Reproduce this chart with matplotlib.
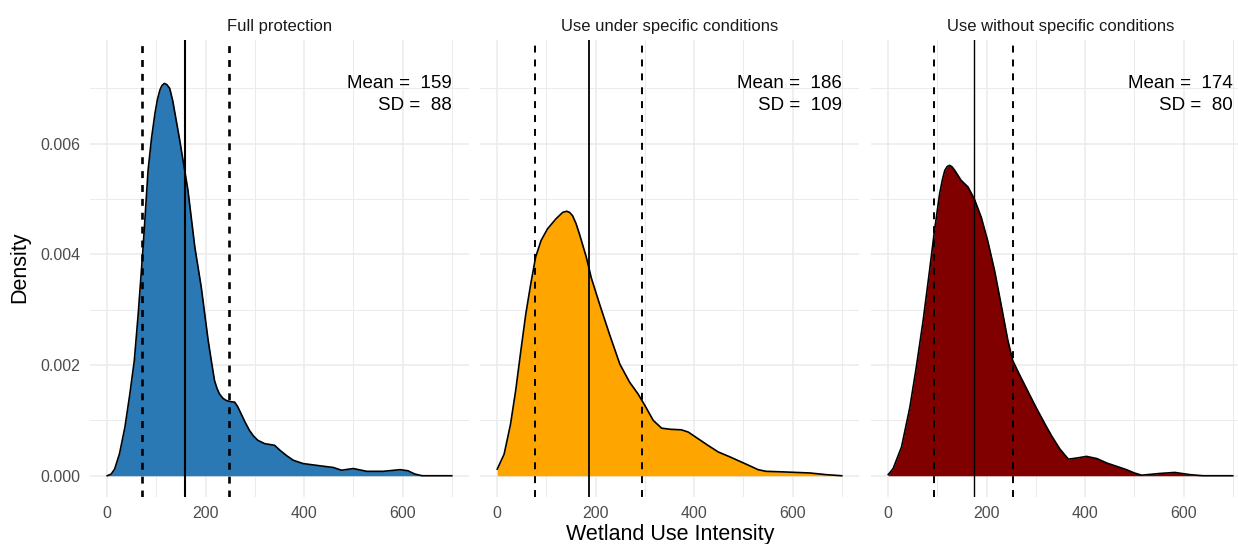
import matplotlib
matplotlib.use("Agg")
import matplotlib.pyplot as plt
from matplotlib.ticker import MultipleLocator

plt.rcParams['font.family'] = ['Liberation Sans', 'DejaVu Sans']
plt.rcParams['lines.scale_dashes'] = False

# ---------------- data ----------------
panel_titles = ["Full protection", "Use under specific conditions", "Use without specific conditions"]
fill_colors = ["#2A78B4", "#FFA500", "#800000"]
means = [159, 186, 174]
sds = [88, 109, 80]

x_full = [0, 8, 15, 25, 36, 46, 55, 63, 73, 83, 90, 97, 102, 107, 111, 116, 121, 127, 133, 140,
          147, 154, 164, 178, 191, 205, 212, 218, 223, 228, 235, 242, 250, 259, 265, 272, 280,
          289, 297, 306, 320, 340, 351, 365, 378, 398, 432, 459, 476, 500, 527, 561, 595, 611,
          625, 640, 660, 700]
y_full = [0.00, 0.03, 0.12, 0.40, 0.88, 1.48, 2.08, 2.93, 4.14, 5.52, 6.10, 6.55, 6.80, 6.97,
          7.05, 7.09, 7.07, 7.00, 6.78, 6.43, 6.08, 5.70, 5.16, 4.13, 3.41, 2.45, 2.05, 1.72,
          1.58, 1.48, 1.40, 1.36, 1.34, 1.33, 1.25, 1.12, 0.97, 0.82, 0.72, 0.64, 0.58, 0.55,
          0.46, 0.36, 0.28, 0.22, 0.18, 0.15, 0.10, 0.13, 0.08, 0.08, 0.11, 0.09, 0.03, 0.0,
          0.0, 0.0]

x_cond = [0, 14, 27, 37.5, 48, 58, 68, 78, 89, 102, 119, 133, 141, 147, 153, 160, 167, 181,
          191, 208, 228, 249, 269, 286, 300, 317, 334, 351, 374, 388, 408, 428, 449, 473, 493,
          513, 530, 546, 580, 635, 668, 700]
y_cond = [0.12, 0.39, 0.93, 1.54, 2.26, 2.92, 3.46, 3.95, 4.25, 4.46, 4.64, 4.76, 4.78, 4.76,
          4.70, 4.56, 4.37, 3.95, 3.58, 3.10, 2.56, 2.02, 1.69, 1.48, 1.27, 1.00, 0.86, 0.84,
          0.83, 0.79, 0.67, 0.55, 0.43, 0.34, 0.26, 0.18, 0.11, 0.08, 0.07, 0.05, 0.02, 0.0]

x_free = [0, 10, 27, 44, 57, 71, 84, 94, 104.5, 110, 115, 120, 125, 130, 135, 148, 162, 175,
          189, 202, 216, 229, 243, 253, 266, 283, 300, 320, 332, 349, 366, 383, 403, 424, 444,
          464, 484, 500, 515, 550, 582, 613, 640, 700]
y_free = [0.02, 0.13, 0.52, 1.24, 1.96, 2.81, 3.71, 4.43, 5.10, 5.35, 5.52, 5.59, 5.61, 5.58,
          5.52, 5.34, 5.22, 5.00, 4.67, 4.25, 3.71, 3.11, 2.45, 2.08, 1.84, 1.54, 1.24, 0.91,
          0.72, 0.48, 0.30, 0.32, 0.35, 0.31, 0.23, 0.17, 0.11, 0.05, 0.01, 0.04, 0.06, 0.02,
          0.0, 0.0]

curves_x = [x_full, x_cond, x_free]
curves_y = [[v / 1000 for v in y_full], [v / 1000 for v in y_cond], [v / 1000 for v in y_free]]

x_ticks = [0, 200, 400, 600]
y_ticks = [0.000, 0.002, 0.004, 0.006]
y_tick_labels = ["0.000", "0.002", "0.004", "0.006"]

# ---------------- figure ----------------
W, H = 1238, 544
fig = plt.figure(figsize=(W / 100, H / 100), dpi=100)
fig.patch.set_facecolor("white")

panel_left_px = [90, 480, 871]
panel_w_px = 379
top_px, bot_px = 40, 496.5

grid_col = "#EBEBEB"
txt_grey = "#4D4D4D"
dash_lws = [1.9, 1.4, 1.4]
solid_lws = [1.5, 1.3, 1.0]

for i in range(3):
    ax = fig.add_axes([panel_left_px[i] / W, 1 - bot_px / H, panel_w_px / W, (bot_px - top_px) / H])
    ax.set_xlim(-35, 735)
    ax.set_ylim(-0.000375, 0.007875)
    for s in ax.spines.values():
        s.set_visible(False)
    ax.set_xticks(x_ticks)
    ax.xaxis.set_minor_locator(MultipleLocator(100))
    ax.set_yticks(y_ticks)
    ax.yaxis.set_minor_locator(MultipleLocator(0.001))
    ax.grid(which="major", color=grid_col, lw=1.1)
    ax.grid(which="minor", color=grid_col, lw=0.7)
    ax.set_axisbelow(True)
    ax.tick_params(which="both", length=0)
    ax.tick_params(axis="x", labelsize=11.5, labelcolor=txt_grey, pad=7)
    if i == 0:
        ax.set_yticklabels(y_tick_labels)
        ax.tick_params(axis="y", labelsize=11.5, labelcolor=txt_grey, pad=7)
    else:
        ax.set_yticklabels([])

    xs, ys = curves_x[i], curves_y[i]
    ax.fill_between(xs, ys, 0, color=fill_colors[i], lw=0, zorder=2)
    ax.plot(xs, ys, color="black", lw=1.2, zorder=3, solid_joinstyle="round")

    m, s = means[i], sds[i]
    ax.axvline(m, color="black", lw=solid_lws[i], zorder=4)
    for v in (m - s, m + s):
        ax.axvline(v, color="black", lw=dash_lws[i], linestyle=(0, (5.0, 5.0)), zorder=4)

    ax.text(700, 0.00700, f"Mean =  {m}", ha="right", va="baseline", fontsize=13.5, color="black", zorder=5)
    ax.text(700, 0.00661, f"SD =  {s}", ha="right", va="baseline", fontsize=13.5, color="black", zorder=5)

    ax.text(0.5, (bot_px - 30.7) / (bot_px - top_px), panel_titles[i], transform=ax.transAxes,
            ha="center", va="baseline", fontsize=12, color="#1A1A1A")

fig.text(20 / W, 1 - 267 / H, "Density", rotation=90, ha="center", va="center", fontsize=15.5)
fig.text(670 / W, 1 - 540 / H, "Wetland Use Intensity", ha="center", va="baseline", fontsize=15.5)

fig.savefig("out.png", dpi=100)
